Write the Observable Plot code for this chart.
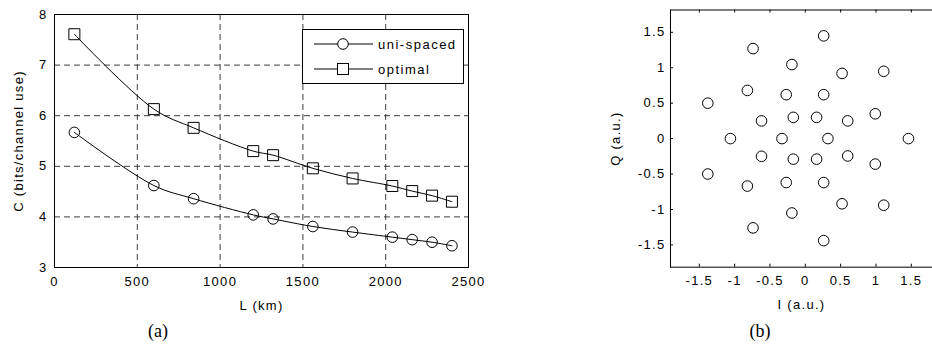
<!DOCTYPE html>
<html>
<head>
<meta charset="utf-8">
<script src="https://cdn.jsdelivr.net/npm/d3@7"></script>
<script src="https://cdn.jsdelivr.net/npm/@observablehq/plot@0.6"></script>
<style>
  html, body { margin: 0; padding: 0; background: #fff; }
  #fig { position: relative; width: 932px; height: 345px; background: #fff; overflow: hidden; }
  #fig svg { position: absolute; top: 0; }
  .cap { position: absolute; font-family: "Liberation Serif", "Times New Roman", serif; font-size: 18px; color: #000; transform: translate(-50%, -50%); white-space: nowrap; }
</style>
</head>
<body>
<div id="fig"></div>
<script>
// ---- Panel (a) data ----
const lengthKm = [120, 600, 840, 1200, 1320, 1560, 1800, 2040, 2160, 2280, 2400];
const capUniSpaced = [5.67, 4.62, 4.36, 4.04, 3.96, 3.81, 3.70, 3.60, 3.55, 3.50, 3.43];
const capOptimal = [7.61, 6.13, 5.76, 5.30, 5.22, 4.96, 4.76, 4.61, 4.51, 4.42, 4.30];
const seriesNames = ["uni-spaced", "optimal"];
const xTicksA = [0, 500, 1000, 1500, 2000, 2500];
const yTicksA = [3, 4, 5, 6, 7, 8];
const xGridA = [500, 1000, 1500, 2000];
const yGridA = [4, 5, 6, 7];

// ---- Panel (b) data: constellation points ----
const constI = [0.26, -0.74, -0.19, 0.52, 1.11, -0.82, -0.27, 0.26, -1.38, 0.99, -0.62, -0.17, 0.16, 0.60, -1.06, -0.33,
                0.32, 1.46, -0.62, -0.17, 0.16, 0.60, 0.99, -1.38, -0.82, -0.27, 0.26, 0.52, 1.11, -0.19, -0.74, 0.26];
const constQ = [1.45, 1.27, 1.045, 0.92, 0.95, 0.68, 0.62, 0.62, 0.50, 0.35, 0.25, 0.30, 0.30, 0.25, 0, 0,
                0, 0, -0.25, -0.29, -0.29, -0.245, -0.36, -0.50, -0.67, -0.62, -0.62, -0.92, -0.94, -1.05, -1.26, -1.44];
const ticksB = [-1.5, -1, -0.5, 0, 0.5, 1, 1.5];

const fig = document.getElementById("fig");
const baseStyle = {
  fontFamily: "'Liberation Sans', Arial, Helvetica, sans-serif",
  fontSize: "13px",
  letterSpacing: "1.3px",
  color: "#000",
  background: "transparent",
  overflow: "visible"
};

const uniData = lengthKm.map((L, i) => ({L, C: capUniSpaced[i], s: seriesNames[0]}));
const optData = lengthKm.map((L, i) => ({L, C: capOptimal[i], s: seriesNames[1]}));

// ---- Panel (a) ----
const plotA = Plot.plot({
  width: 490, height: 345,
  marginLeft: 54, marginRight: 22, marginTop: 14, marginBottom: 78,
  style: baseStyle,
  x: {domain: [0, 2500]},
  y: {domain: [3, 8]},
  marks: [
    Plot.gridX(xGridA, {stroke: "#3c3c3c", strokeOpacity: 1, strokeDasharray: "6,4"}),
    Plot.gridY(yGridA, {stroke: "#3c3c3c", strokeOpacity: 1, strokeDasharray: "6,4"}),
    Plot.frame({stroke: "#000"}),
    Plot.axisX({ticks: xTicksA, tickSize: 0, tickPadding: 9, tickFormat: d => String(d),
      label: "L (km)", labelAnchor: "center", labelOffset: 42, labelArrow: "none"}),
    Plot.axisY({ticks: yTicksA, tickSize: 0, tickPadding: 7, tickFormat: d => String(d),
      label: "C (bits/channel use)", labelAnchor: "center", labelOffset: 41, labelArrow: "none"}),
    Plot.line(uniData, {x: "L", y: "C", curve: "catmull-rom", stroke: "#000", strokeWidth: 1}),
    Plot.dot(uniData, {x: "L", y: "C", symbol: "circle", r: 5.3, stroke: "#000", fill: "none", strokeWidth: 1}),
    Plot.line(optData, {x: "L", y: "C", curve: "catmull-rom", stroke: "#000", strokeWidth: 1}),
    Plot.dot(optData, {x: "L", y: "C", symbol: "square", r: 6.2, stroke: "#000", fill: "none", strokeWidth: 1})
  ]
});
plotA.style.left = "0px";
fig.appendChild(plotA);

// ---- Legend for panel (a) ----
const leg = d3.create("svg")
  .attr("width", 164).attr("height", 57)
  .style("left", "301px").style("top", "28px")
  .style("position", "absolute");
leg.append("rect").attr("x", 1.5).attr("y", 1.5).attr("width", 161).attr("height", 54)
  .attr("fill", "#fff").attr("stroke", "#000").attr("stroke-width", 1);
seriesNames.forEach((name, i) => {
  const y = 16 + i * 25;
  leg.append("line").attr("x1", 13).attr("x2", 72).attr("y1", y).attr("y2", y).attr("stroke", "#000");
  if (i === 0) {
    leg.append("circle").attr("cx", 42).attr("cy", y).attr("r", 5.3).attr("fill", "#fff").attr("stroke", "#000");
  } else {
    leg.append("rect").attr("x", 42 - 5.5).attr("y", y - 5.5).attr("width", 11).attr("height", 11)
      .attr("fill", "#fff").attr("stroke", "#000");
  }
  leg.append("text").attr("x", 77).attr("y", y).attr("dy", "0.35em")
    .attr("font-family", "'Liberation Sans', Arial, sans-serif").attr("font-size", 13)
    .attr("letter-spacing", "1.5px").attr("fill", "#000").text(name);
});
fig.appendChild(leg.node());

// ---- Panel (b) ----
const constData = constI.map((I, i) => ({I, Q: constQ[i]}));
const frameHB = 345 - 9.5 - 78.3;
const frameWB = 372 - 110;
const plotB = Plot.plot({
  width: 372, height: 345,
  marginLeft: 110, marginRight: 0, marginTop: 9.5, marginBottom: 78.3,
  style: baseStyle,
  x: {domain: [-1.908, 1.80]},
  y: {domain: [-1.815, 1.815]},
  marks: [
    Plot.frame({anchor: "top", stroke: "#000"}),
    Plot.frame({anchor: "bottom", stroke: "#000"}),
    Plot.frame({anchor: "left", stroke: "#000"}),
    Plot.tickX(ticksB, {x: d => d, insetTop: frameHB - 3, stroke: "#000"}),
    Plot.tickX(ticksB, {x: d => d, insetBottom: frameHB - 3, stroke: "#000"}),
    Plot.tickY(ticksB, {y: d => d, insetRight: frameWB - 3, stroke: "#000"}),
    Plot.axisX({ticks: ticksB, tickSize: 0, tickPadding: 9, tickFormat: d => String(d),
      label: "I (a.u.)", labelAnchor: "center", labelOffset: 42, labelArrow: "none"}),
    Plot.axisY({ticks: ticksB, tickSize: 0, tickPadding: 5, tickFormat: d => String(d),
      label: "Q (a.u.)", labelAnchor: "center", labelOffset: 60, labelArrow: "none"}),
    Plot.dot(constData, {x: "I", y: "Q", symbol: "circle", r: 5.3, stroke: "#000", fill: "none", strokeWidth: 1})
  ]
});
plotB.style.left = "560px";
fig.appendChild(plotB);

// ---- Sub-figure captions ----
[["(a)", 158], ["(b)", 760]].forEach(([t, x]) => {
  const d = document.createElement("div");
  d.className = "cap";
  d.textContent = t;
  d.style.left = x + "px";
  d.style.top = "331px";
  fig.appendChild(d);
});
</script>
</body>
</html>
